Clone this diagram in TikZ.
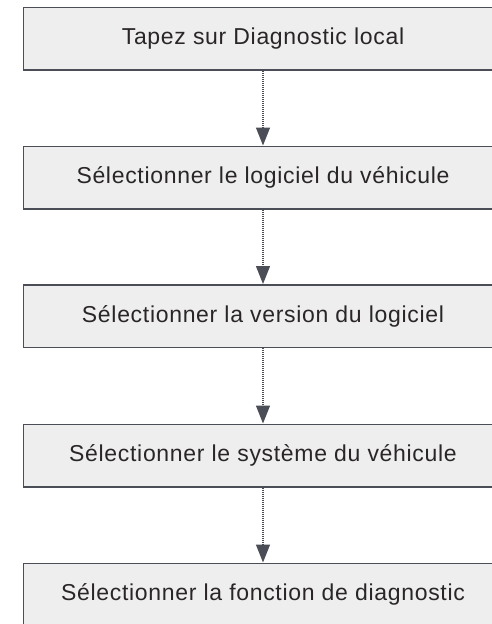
\documentclass[tikz,border=0pt]{standalone}
\usepackage{fontspec}
\newfontfamily\etapefont[LetterSpace=3]{Liberation Sans}
\usetikzlibrary{arrows.meta}
\definecolor{cadre}{HTML}{4B4E56}
\definecolor{fond}{HTML}{EEEEEE}
\definecolor{encre}{HTML}{2A2628}
\tikzset{
	etape/.style={draw=cadre, fill=fond, line width=1.5pt, minimum width=479pt, minimum height=62.5pt, inner sep=0pt, text=encre, font=\etapefont\fontsize{23pt}{27pt}\selectfont},
	fleche/.style={draw=cadre, line width=1.2pt, dash pattern=on 1pt off 1pt, -{Triangle[length=18pt, width=14pt, fill=cadre]}}
}

\begin{document}
\begin{tikzpicture}[x=1pt, y=-1pt]
			%%%%% START %%%%%
			
			\useasboundingbox (0, 0) rectangle (491, 624);
			
			\node[etape] (tapez) at (263, 38.75) {Tapez sur Diagnostic local};
			\node[etape] (logiciel) at (263, 177.5) {Sélectionner le logiciel du véhicule};
			\node[etape] (version) at (263, 316) {Sélectionner la version du logiciel};
			\node[etape] (systeme) at (263, 455.5) {Sélectionner le système du véhicule};
			\node[etape] (fonction) at (263, 594.5) {Sélectionner la fonction de diagnostic};
			
			\draw[fleche] (tapez) -- (logiciel);
			\draw[fleche] (logiciel) -- (version);
			\draw[fleche] (version) -- (systeme);
			\draw[fleche] (systeme) -- (fonction);
			
			%%%%% END %%%%%
		\end{tikzpicture}
\end{document}
